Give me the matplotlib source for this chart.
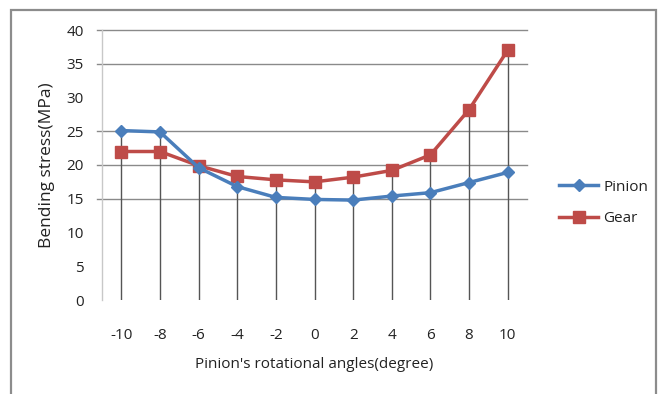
import matplotlib
matplotlib.use("Agg")
import matplotlib.pyplot as plt
from matplotlib.patches import Rectangle

angles = ["-10", "-8", "-6", "-4", "-2", "0", "2", "4", "6", "8", "10"]
pinion = [25.1, 24.9, 19.6, 16.8, 15.2, 14.9, 14.8, 15.4, 15.9, 17.4, 18.9]
gear = [22.0, 22.0, 19.9, 18.3, 17.8, 17.5, 18.2, 19.2, 21.5, 28.2, 37.0]
y_ticks = [0, 5, 10, 15, 20, 25, 30, 35, 40]
grid_vals = [15, 20, 25, 35, 40]

plt.rcParams['font.family'] = ['Open Sans', 'DejaVu Sans']

W, H = 662, 394
fig = plt.figure(figsize=(W / 100, H / 100), dpi=100)
fig.patch.set_facecolor('white')

# outer chart frame
fig.patches.append(Rectangle((11 / W, -0.05), (656 - 11) / W, 1.05 - 10 / H,
                             transform=fig.transFigure, fill=False,
                             edgecolor='#8c8c8c', linewidth=1.6))

ax = fig.add_axes([102 / W, 1 - 300 / H, (527 - 102) / W, (300 - 30) / H])
x = list(range(len(angles)))
ax.set_xlim(-0.5, len(angles) - 0.5)
ax.set_ylim(0, 40)

for s in ['top', 'right', 'bottom']:
    ax.spines[s].set_visible(False)
ax.spines['left'].set_color('#c8c8c8')
ax.spines['left'].set_linewidth(1.0)

for g in grid_vals:
    ax.axhline(g, xmin=-5 / 425, xmax=1, color='#8a8a8a', linewidth=1.0,
               clip_on=False, zorder=1)

# drop lines
for xi, p, q in zip(x, pinion, gear):
    ax.vlines(xi, 0, max(p, q), color='#555555', linewidth=1.0, zorder=2)

ax.plot(x, pinion, color='#4A7EBB', linewidth=2.5, marker='D', markersize=6,
        label='Pinion', zorder=4)
ax.plot(x, gear, color='#BE4B48', linewidth=2.5, marker='s', markersize=9,
        label='Gear', zorder=3)

ax.set_xticks(x)
ax.set_xticklabels(angles)
ax.set_yticks(y_ticks)
ax.tick_params(axis='both', length=0, labelsize=11, colors='#222222')
ax.tick_params(axis='y', pad=13)
ax.tick_params(axis='x', pad=20)

ax.set_xlabel("Pinion's rotational angles(degree)", fontsize=11, labelpad=10,
              color='#222222')
ax.set_ylabel("Bending stress(MPa)", fontsize=12.5, labelpad=8, color='#222222')

ax.legend(loc='center left', bbox_to_anchor=(545 / W, 1 - 203 / H),
          bbox_transform=fig.transFigure, frameon=False, fontsize=11,
          handlelength=2.6, labelspacing=1.1, handletextpad=0.3,
          labelcolor='#222222')

fig.savefig('out.png', dpi=100, facecolor='white')
